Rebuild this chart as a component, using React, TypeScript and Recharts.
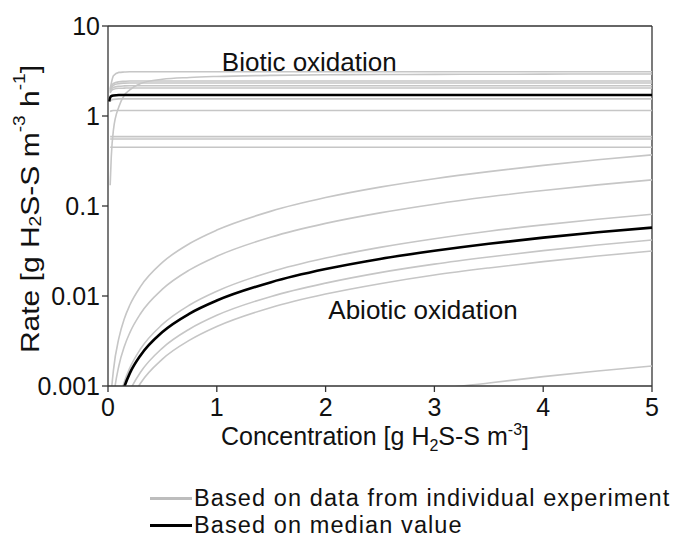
import { LineChart, Line, XAxis, YAxis, ReferenceLine, ReferenceDot } from "recharts";

// concentration grid (g H2S-S m-3) shared by every curve
const concentration = [0.01, 0.02, 0.03, 0.05, 0.1, 0.15, 0.2, 0.3, 0.5, 0.75, 1, 1.5, 2, 2.5, 3, 3.5, 4, 4.5, 5];

// biotic oxidation, one curve per experiment
const biotic1 = [null, 2.0, 2.3, 2.8, 3.05, 3.08, 3.1, 3.1, 3.1, 3.1, 3.1, 3.1, 3.1, 3.1, 3.1, 3.1, 3.1, 3.1, 3.1];
const biotic2 = [null, 0.17, 0.35, 0.7, 1.27, 1.7, 1.95, 2.3, 2.56, 2.68, 2.75, 2.83, 2.87, 2.89, 2.9, 2.91, 2.92, 2.93, 2.93];
const biotic3 = [null, 1.95, 2.15, 2.3, 2.4, 2.43, 2.45, 2.45, 2.45, 2.45, 2.45, 2.45, 2.45, 2.45, 2.45, 2.45, 2.45, 2.45, 2.45];
const biotic4 = [null, 1.9, 2.05, 2.2, 2.29, 2.32, 2.33, 2.33, 2.33, 2.33, 2.33, 2.33, 2.33, 2.33, 2.33, 2.33, 2.33, 2.33, 2.33];
const biotic5 = [null, 1.85, 1.98, 2.08, 2.14, 2.16, 2.17, 2.17, 2.17, 2.17, 2.17, 2.17, 2.17, 2.17, 2.17, 2.17, 2.17, 2.17, 2.17];
const biotic6 = [null, 1.8, 1.9, 1.98, 2.03, 2.04, 2.05, 2.05, 2.05, 2.05, 2.05, 2.05, 2.05, 2.05, 2.05, 2.05, 2.05, 2.05, 2.05];
const biotic7 = [null, 1.45, 1.5, 1.53, 1.55, 1.55, 1.55, 1.55, 1.55, 1.55, 1.55, 1.55, 1.55, 1.55, 1.55, 1.55, 1.55, 1.55, 1.55];
const biotic8 = [null, 1.12, 1.14, 1.15, 1.15, 1.15, 1.15, 1.15, 1.15, 1.15, 1.15, 1.15, 1.15, 1.15, 1.15, 1.15, 1.15, 1.15, 1.15];
const biotic9 = [null, 0.59, 0.59, 0.59, 0.59, 0.59, 0.59, 0.59, 0.59, 0.59, 0.59, 0.59, 0.59, 0.59, 0.59, 0.59, 0.59, 0.59, 0.59];
const biotic10 = [null, 0.555, 0.555, 0.555, 0.555, 0.555, 0.555, 0.555, 0.555, 0.555, 0.555, 0.555, 0.555, 0.555, 0.555, 0.555, 0.555, 0.555, 0.555];
const biotic11 = [null, 0.45, 0.45, 0.45, 0.45, 0.45, 0.45, 0.45, 0.45, 0.45, 0.45, 0.45, 0.45, 0.45, 0.45, 0.45, 0.45, 0.45, 0.45];
const bioticMedian = [1.45, 1.6, 1.66, 1.69, 1.71, 1.71, 1.71, 1.71, 1.71, 1.71, 1.71, 1.71, 1.71, 1.71, 1.71, 1.71, 1.71, 1.71, 1.71];

// abiotic oxidation, one curve per experiment
const abiotic1 = [0.00022, 0.0005, 0.00082, 0.0015, 0.0034, 0.0056, 0.0079, 0.0128, 0.0236, 0.0383, 0.054, 0.0877, 0.124, 0.162, 0.201, 0.241, 0.283, 0.326, 0.37];
const abiotic2 = [null, 0.00024, 0.00039, 0.00072, 0.00168, 0.00275, 0.0039, 0.0064, 0.0119, 0.0195, 0.0276, 0.0452, 0.0641, 0.0839, 0.1048, 0.1265, 0.1485, 0.1717, 0.195];
const abiotic3 = [null, null, null, 0.00029, 0.00067, 0.00111, 0.00158, 0.00259, 0.00483, 0.00795, 0.0113, 0.0186, 0.0264, 0.0347, 0.0433, 0.0524, 0.0617, 0.0713, 0.081];
const abiotic4 = [null, null, null, null, null, 0.000625, 0.00088, 0.00143, 0.00264, 0.0043, 0.0061, 0.0099, 0.0139, 0.0182, 0.0226, 0.0271, 0.0319, 0.0368, 0.0419];
const abiotic5 = [null, null, null, null, null, null, 0.00066, 0.00108, 0.00199, 0.00323, 0.00458, 0.00746, 0.0105, 0.0137, 0.0171, 0.0205, 0.0241, 0.0278, 0.0316];
const abiotic6 = [null, null, null, null, null, null, null, null, null, null, null, null, 0.0006, 0.00075, 0.00092, 0.00108, 0.00127, 0.00147, 0.00167];
const abioticMedian = [null, null, null, null, 0.00062, 0.00098, 0.00138, 0.0022, 0.00398, 0.00638, 0.0089, 0.01425, 0.0199, 0.0258, 0.0318, 0.0381, 0.0445, 0.051, 0.0575];

const xTicks = [0, 1, 2, 3, 4, 5];
const yTicks = [0.001, 0.01, 0.1, 1, 10];

const experiments = [
  biotic1, biotic2, biotic3, biotic4, biotic5, biotic6, biotic7, biotic8, biotic9, biotic10, biotic11,
  abiotic1, abiotic2, abiotic3, abiotic4, abiotic5, abiotic6,
];
const medians = [bioticMedian, abioticMedian];

const data = concentration.map((c, i) => {
  const row: Record<string, number | null> = { c };
  experiments.forEach((s, k) => (row[`e${k}`] = s[i]));
  medians.forEach((s, k) => (row[`m${k}`] = s[i]));
  return row;
});

const FONT = "'Liberation Sans', Arial, sans-serif";
const AXIS = "#333";
const GREY = "#c6c6c6";

// rotated title, stretched a little along its length
function YTitle({ viewBox }: any) {
  const cx = viewBox.x + 22;
  const cy = viewBox.y + viewBox.height / 2 + 3;
  return (
    <text x={0} y={0} transform={`translate(${cx} ${cy}) rotate(-90) scale(1.2 1)`} textAnchor="middle"
      dominantBaseline="central" fontSize={25} fontFamily={FONT} fill="#111">
      Rate [g H<tspan fontSize={16} dy={6}>2</tspan>
      <tspan dy={-6}>S-S m</tspan>
      <tspan fontSize={16} dy={-10}>-3</tspan>
      <tspan dy={10}> h</tspan>
      <tspan fontSize={16} dy={-10}>-1</tspan>
      <tspan dy={10}>]</tspan>
    </text>
  );
}

function XTitle({ viewBox }: any) {
  const cx = viewBox.x + viewBox.width / 2 - 5;
  const cy = viewBox.y + 59;
  return (
    <text x={cx} y={cy} textAnchor="middle" fontSize={25} fontFamily={FONT} fill="#111">
      Concentration [g H<tspan fontSize={16} dy={6}>2</tspan>
      <tspan dy={-6}>S-S m</tspan>
      <tspan fontSize={16} dy={-10}>-3</tspan>
      <tspan dy={10}>]</tspan>
    </text>
  );
}

const legendRow = { display: "flex", alignItems: "center", height: 27 } as const;

export default function App() {
  return (
    <div style={{ position: "relative", width: 670, height: 530, fontFamily: FONT }}>
      <LineChart width={670} height={530} data={data}
        margin={{ top: 18, right: 26, left: 0, bottom: 82 }}>
        <XAxis dataKey="c" type="number" domain={[0, 5]} ticks={xTicks}
          stroke={AXIS} strokeWidth={1.3} tickSize={6} tickMargin={6} height={70}
          tick={{ fontSize: 25, fill: "#111", fontFamily: FONT }}
          label={<XTitle />} />
        <YAxis scale="log" domain={[0.001, 10]} ticks={yTicks} allowDataOverflow
          stroke={AXIS} strokeWidth={1.3} tickSize={6} tickMargin={2} width={100}
          tickFormatter={(v: number) => String(v)}
          tick={{ fontSize: 25, fill: "#111", fontFamily: FONT }}
          label={<YTitle />} />
        <ReferenceLine y={10} stroke={AXIS} strokeWidth={1.3} />
        <ReferenceLine x={5} stroke={AXIS} strokeWidth={1.3} />

        {experiments.map((_, k) => (
          <Line key={`e${k}`} dataKey={`e${k}`} type="monotone" stroke={GREY} strokeWidth={1.6}
            dot={false} isAnimationActive={false} />
        ))}
        {medians.map((_, k) => (
          <Line key={`m${k}`} dataKey={`m${k}`} type="monotone" stroke="#000" strokeWidth={2.6}
            dot={false} isAnimationActive={false} />
        ))}

        <ReferenceDot x={1.85} y={4} r={0} fill="none" stroke="none" ifOverflow="visible"
          label={{ value: "Biotic oxidation", position: "center", fontSize: 26, fill: "#111", fontFamily: FONT }} />
        <ReferenceDot x={2.895} y={0.007} r={0} fill="none" stroke="none" ifOverflow="visible"
          label={{ value: "Abiotic oxidation", position: "center", fontSize: 26, fill: "#111", fontFamily: FONT }} />
      </LineChart>

      <div style={{ position: "absolute", left: 142, top: 477, fontSize: 23.5, letterSpacing: 1.1, color: "#111", lineHeight: "27px" }}>
        <div style={legendRow}>
          <span style={{ width: 42, height: 3, background: "#bdbdbd", marginRight: 2 }} />
          <span>Based on data from individual experiment</span>
        </div>
        <div style={legendRow}>
          <span style={{ width: 42, height: 3, background: "#000", marginRight: 2 }} />
          <span>Based on median value</span>
        </div>
      </div>
    </div>
  );
}
